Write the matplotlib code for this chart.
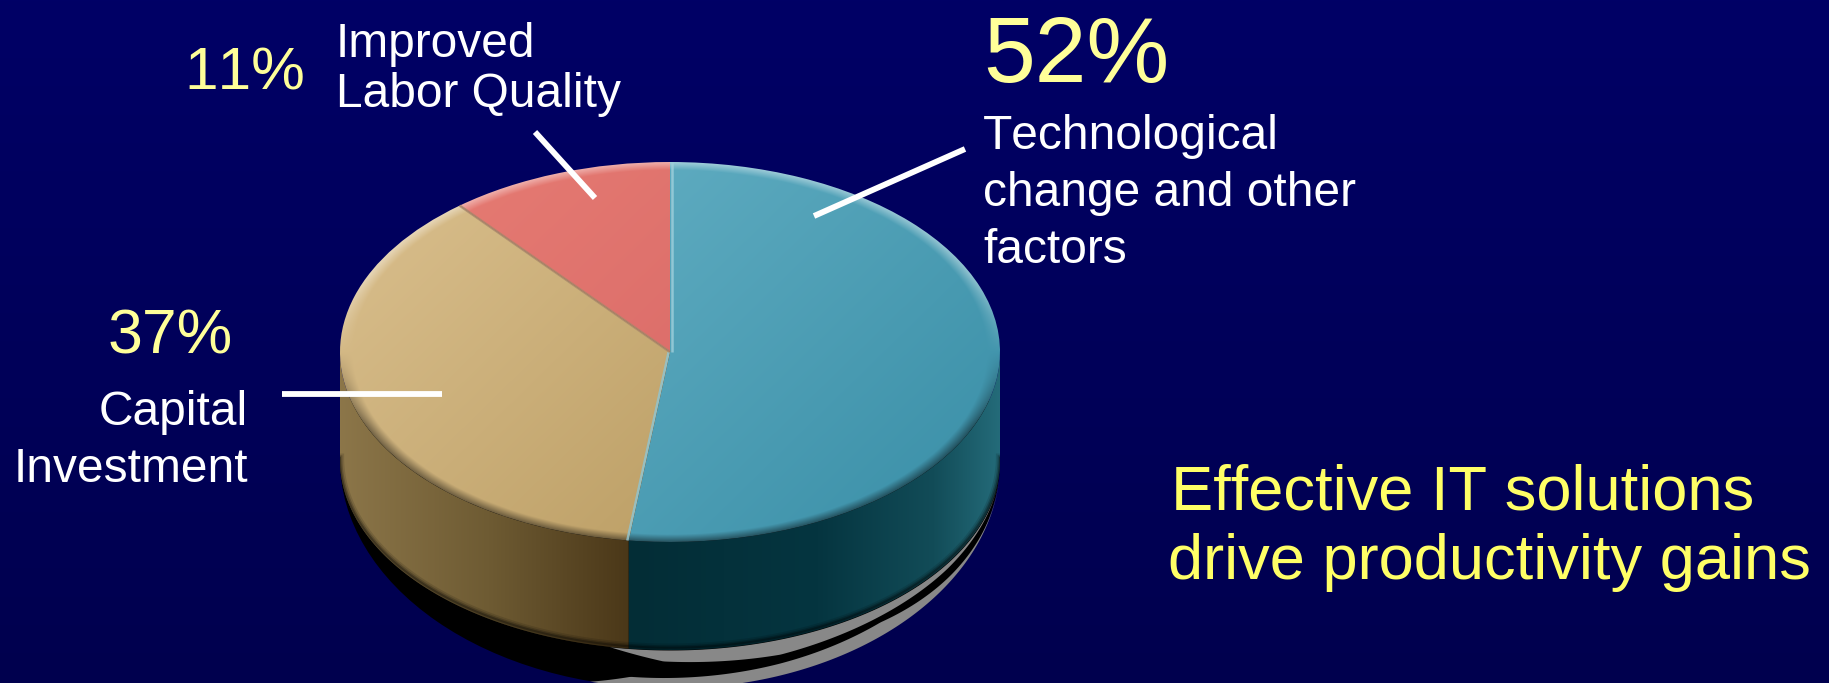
import matplotlib
matplotlib.use("Agg")
import matplotlib.pyplot as plt
import numpy as np
from matplotlib.colors import to_rgb
from matplotlib.patches import Ellipse, Polygon

plt.rcParams["font.family"] = ["Liberation Sans", "DejaVu Sans"]
plt.rcParams["text.kerning_factor"] = 6

# data, clockwise from twelve o'clock
shares = [52, 37, 11]
top_start = ["#67b2c6", "#d6bb88", "#e57a72"]
top_end = ["#3f93ab", "#b5975c", "#d56464"]
wall_x = [-1.0, -0.55, -0.12, 0.45, 0.8, 1.0]
wall_teal = ["#032d36", "#032d36", "#032d36", "#053540", "#124c58", "#246b79"]
wall_tan = ["#8c7649", "#6e5b33", "#4a3718", "#4a3718", "#4a3718", "#4a3718"]

pct_labels = ["52%", "37%", "11%"]
name_labels = ["Technological\nchange and other\nfactors", "Capital\nInvestment", "Improved\nLabor Quality"]
message = ["Effective IT solutions", "drive productivity gains"]

W, H = 1829, 683
CX, CY, RX, RY = 670, 352, 330, 190
DEPTH = 108 / RY
SHADOW_RY = 228 / RY


def vertical_bg(ax):
    grad = np.linspace(0, 1, 256)[:, None, None]
    img = (1 - grad) * np.array(to_rgb("#000066")) + grad * np.array(to_rgb("#00004e"))
    ax.imshow(img, extent=[0, 1, 0, 1], aspect="auto", origin="upper")
    ax.axis("off")


def top_image(c0, c1):
    xs, ys = np.meshgrid(np.linspace(-1.02, 1.02, 700), np.linspace(1.02, -1.02, 420))
    t = np.clip((xs * 0.85 - ys * 0.5 + 1.0) / 2.0, 0, 1)[..., None]
    img = (1 - t) * np.array(to_rgb(c0)) + t * np.array(to_rgb(c1))
    # soft bevel round the rim: light on top, dark at the bottom
    r = np.sqrt(xs**2 + ys**2)
    rim = np.clip((r - 0.96) / 0.04, 0, 1)[..., None]
    side = np.clip(ys * 2.5, -1, 1)[..., None]
    img = img + (1 - img) * rim * np.clip(side, 0, 1) * 0.4
    img = img * (1 - rim * np.clip(-side, 0, 1) * 0.45)
    return img


def wall_image(stops):
    xs = np.linspace(-1, 1, 500)
    rgb = np.array([to_rgb(c) for c in stops])
    return np.stack([np.interp(xs, wall_x, rgb[:, i]) for i in range(3)], axis=-1)[None, ...]


def grey_band(ax, base_ry, px, thick):
    # grey sliver following the bottom curve, thickness given in pixels
    xs = np.linspace(-1, 1, 300)
    t = np.interp(CX + xs * RX, px, thick) / RY
    curve = -DEPTH - base_ry * np.sqrt(1 - xs**2)
    return curve, t, xs


fig = plt.figure(figsize=(W / 100, H / 100), dpi=100)

bg = fig.add_axes([0, 0, 1, 1], zorder=0)
vertical_bg(bg)

# pie axes: one data unit is RX wide and RY high, so the pie squashes to an ellipse
left, right = 300, 1040
bottom_val = 1 - (H - (CY - RY)) / RY
pie_ax = fig.add_axes([left / W, 0, (right - left) / W, (H - (CY - RY)) / H], zorder=1)
pie_ax.patch.set_alpha(0)
wedges, _ = pie_ax.pie(shares, startangle=90, counterclock=False, radius=1, center=(0, 0))
pie_ax.set_aspect("auto")
pie_ax.axis("off")

# drop shadow under the pie: black ellipse with two grey slivers over it
pie_ax.add_patch(Ellipse((0, -DEPTH), 2, 2 * SHADOW_RY, fc="#000000", ec="none", zorder=1))

curve, t, xs = grey_band(pie_ax, SHADOW_RY, [590, 630, 780, 880, 947, 1000], [0, 10, 12, 14, 6, 0])
pie_ax.fill_between(xs, curve, curve + t, color="#888888", lw=0, zorder=1.1)
curve, t, xs = grey_band(pie_ax, 1.0, [610, 663, 780, 880, 947, 1000], [0, 11, 15, 9, 5, 0])
pie_ax.fill_between(xs, curve - t, curve, color="#888888", lw=0, zorder=1.1)

# side walls, one for each slice that faces the viewer
edges = 90 - np.cumsum([0] + shares) * 3.6
wall_colors = [wall_teal, wall_tan, None]
for i, stops in enumerate(wall_colors):
    if stops is None:
        continue
    a1, a0 = edges[i], edges[i + 1]
    lo, hi = max(a0, -180), min(a1, 0)
    th = np.radians(np.linspace(lo, hi, 120))
    upper = np.column_stack([np.cos(th), np.sin(th)])
    lower = upper[::-1] + [0, -DEPTH]
    poly = Polygon(np.vstack([upper, lower]), closed=True, fc="none", ec="none", zorder=2)
    pie_ax.add_patch(poly)
    im = pie_ax.imshow(wall_image(stops), extent=[-1, 1, -2, 1], aspect="auto", zorder=2)
    im.set_clip_path(poly)
    # darker fade along the foot of the wall
    for lw, alpha in [(6, 0.12), (3.5, 0.2), (1.5, 0.3)]:
        pie_ax.plot(lower[:, 0], lower[:, 1] + 0.012, color="black", lw=lw, alpha=alpha, zorder=2.1, clip_path=poly)

# top faces
for wedge, c0, c1 in zip(wedges, top_start, top_end):
    wedge.set_facecolor("none")
    wedge.set_zorder(3)
    im = pie_ax.imshow(top_image(c0, c1), extent=[-1.02, 1.02, -1.02, 1.02], aspect="auto", zorder=3)
    im.set_clip_path(wedge)

pie_ax.set_xlim((left - CX) / RX, (right - CX) / RX)
pie_ax.set_ylim(bottom_val, 1)

# lit seam along the slice edges
for a, col, off in zip(edges[:3], ["#9fd0dc", "#8fc6d4", "#a8876a"], [0.006, -0.004, 0.0]):
    x, y = np.cos(np.radians(a)), np.sin(np.radians(a))
    pie_ax.plot([off, x + off], [0, y], color=col, lw=1.8, alpha=0.8, zorder=4, solid_capstyle="butt")

# overlay in image pixels for labels and leaders
ov = fig.add_axes([0, 0, 1, 1], zorder=2)
ov.set_xlim(0, W)
ov.set_ylim(H, 0)
ov.axis("off")

leaders = [((965, 149), (814, 216)), ((535, 132), (595, 198)), ((282, 394), (442, 394))]
for (x0, y0), (x1, y1) in leaders:
    ov.plot([x0, x1], [y0, y1], color="white", lw=4.2, solid_capstyle="butt")

yellow = "#ffff99"
ov.text(983, 82, pct_labels[0], color=yellow, fontsize=67, va="baseline", ha="left")
ov.text(184, 89, pct_labels[2], color=yellow, fontsize=43.5, va="baseline", ha="left")
ov.text(108, 353, pct_labels[1], color=yellow, fontsize=45, va="baseline", ha="left")

for i, line in enumerate(name_labels[0].split("\n")):
    ov.text(983, 149 + i * 57, line, color="white", fontsize=34.5, va="baseline", ha="left")
for i, line in enumerate(name_labels[2].split("\n")):
    ov.text(336, 57 + i * 50, line, color="white", fontsize=34.5, va="baseline", ha="left")
for i, line in enumerate(name_labels[1].split("\n")):
    ov.text(248, 425 + i * 57, line, color="white", fontsize=34.5, va="baseline", ha="right")

ov.text(1171, 509, message[0], color="#ffff66", fontsize=45.5, va="baseline", ha="left")
ov.text(1168, 579, message[1], color="#ffff66", fontsize=45.5, va="baseline", ha="left")

fig.savefig("out.png", dpi=100, facecolor="#000066")
